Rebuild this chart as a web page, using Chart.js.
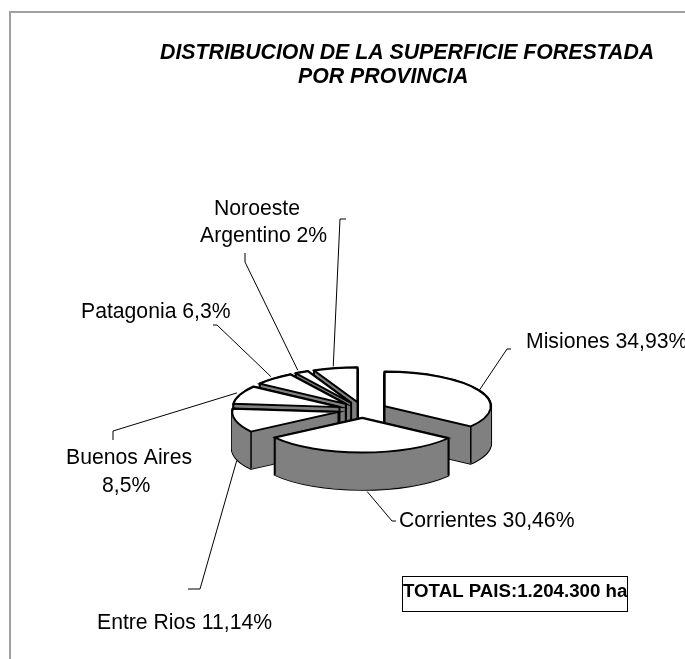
<!DOCTYPE html>
<html>
<head>
<meta charset="utf-8">
<script src="https://cdn.jsdelivr.net/npm/chart.js@4/dist/chart.umd.js"></script>
<style>
  html, body { margin: 0; padding: 0; background: #fff; }
  canvas { display: block; }
</style>
</head>
<body>
<canvas id="chart" width="685" height="659"></canvas>
<script>
var categories = ['Misiones', 'Corrientes', 'Entre Rios', 'Buenos Aires', 'Patagonia', 'Noroeste Argentino', ''];
var shares = [34.93, 30.46, 11.14, 8.5, 6.3, 2, 6.67];
var titleLines = ['DISTRIBUCION DE LA SUPERFICIE FORESTADA', 'POR PROVINCIA'];
var labelLines = [
    ['Misiones 34,93%'],
    ['Corrientes 30,46%'],
    ['Entre Rios 11,14%'],
    ['Buenos Aires', '8,5%'],
    ['Patagonia 6,3%'],
    ['Noroeste', 'Argentino 2%'],
    []
];
var totalText = 'TOTAL PAIS:1.204.300 ha';

// look of the pie
var squash = 0.325, depth = 37, explode = 25, pieRadius = 106, pieX = 362.5, pieY = 410;
var labelFont = '21.2px "Liberation Sans"';
var titleFont = 'italic bold 21.3px "Liberation Sans"';
var totalFont = 'bold 18.7px "Liberation Sans"';

// x, baseline for each text line, the two first points of each leader
// and how far its end sits from the middle of the rim
var labelSpots = [
    [[526, 348]],
    [[399, 527]],
    [[97, 629]],
    [[66, 464], [102, 492]],
    [[81, 318]],
    [[214, 215], [200, 242]],
    []
];
var leaderStarts = [
    [[511, 349], [507, 349]],
    [[396, 521], [392, 521]],
    [[188, 589], [200, 589]],
    [[113, 440], [113, 431]],
    [[213, 325], [217, 325]],
    [[245, 253], [245, 262]],
    [[346, 219], [340, 219]]
];
var leaderNudges = [[0, 0], [6, 2], [1, 3], [-3, -2], [-3, -2], [-4, -2], [-2, -2]];

var TAU = Math.PI * 2;

function sliceOffset(arc) {
    var mid = (arc.startAngle + arc.endAngle) / 2;
    return { x: Math.cos(mid) * explode, y: Math.sin(mid) * explode };
}

// strokes stay even although the arc path is squashed
function drawArc(ctx, arc, dy, opts) {
    var off = sliceOffset(arc);
    var saved = arc.options;
    arc.options = Object.assign({}, saved, opts);
    ctx.save();
    ctx.translate(0, pieY + dy);
    ctx.scale(1, squash);
    ctx.translate(off.x, -arc.y + off.y);
    ctx.stroke = function () {
        ctx.save();
        ctx.setTransform(1, 0, 0, 1, 0, 0);
        CanvasRenderingContext2D.prototype.stroke.call(ctx);
        ctx.restore();
    };
    arc.draw(ctx);
    delete ctx.stroke;
    ctx.restore();
    arc.options = saved;
}

// screen position of a point of the slice top
function topPoint(arc, angle, r) {
    var off = sliceOffset(arc);
    return {
        x: arc.x + off.x + Math.cos(angle) * r,
        y: pieY + (off.y + Math.sin(angle) * r) * squash
    };
}

function wallLine(ctx, p) {
    ctx.beginPath();
    ctx.moveTo(p.x, p.y);
    ctx.lineTo(p.x, p.y + depth);
    ctx.stroke();
}

var pie3d = {
    id: 'pie3d',
    beforeDatasetDraw: function (chart, args) {
        var ctx = chart.ctx;
        var arcs = chart.getDatasetMeta(args.index).data.slice();
        arcs.sort(function (a, b) {
            return Math.sin((a.startAngle + a.endAngle) / 2) - Math.sin((b.startAngle + b.endAngle) / 2);
        });
        arcs.forEach(function (arc) {
            var dy;
            // only the outer half of this stroke stays visible, on the wall outline
            for (dy = depth; dy >= 0; dy--) {
                drawArc(ctx, arc, dy, { backgroundColor: '#000000', borderColor: '#000000', borderWidth: 2.6, borderJoinStyle: 'round' });
            }
            for (dy = depth; dy >= 0; dy--) {
                drawArc(ctx, arc, dy, { backgroundColor: '#808080', borderColor: '#808080', borderWidth: 0.8, borderJoinStyle: 'round' });
            }
            // vertical edges of the walls that face the viewer
            ctx.save();
            ctx.strokeStyle = '#000000';
            ctx.lineWidth = 1.5;
            var s = (arc.startAngle + Math.PI / 2 + TAU) % TAU;
            var e = (arc.endAngle + Math.PI / 2 + TAU) % TAU;
            if (e < 1e-6) e = TAU;
            var startCut = s > Math.PI + 1e-6;
            var endCut = e < Math.PI - 1e-6;
            var frontStart = s > Math.PI / 2 && s < Math.PI * 1.5;
            var frontEnd = e > Math.PI / 2 && e < Math.PI * 1.5;
            if (startCut || endCut) wallLine(ctx, topPoint(arc, 0, 0));
            if (startCut || frontStart) wallLine(ctx, topPoint(arc, arc.startAngle, arc.outerRadius));
            if (endCut || frontEnd) wallLine(ctx, topPoint(arc, arc.endAngle, arc.outerRadius));
            ctx.restore();
            drawArc(ctx, arc, 0, {});
        });
        return false;
    },
    afterDraw: function (chart) {
        var ctx = chart.ctx;
        var arcs = chart.getDatasetMeta(0).data;
        ctx.save();
        // sheet edge
        ctx.strokeStyle = '#a0a0a0';
        ctx.lineWidth = 2;
        ctx.beginPath();
        ctx.moveTo(10, 659);
        ctx.lineTo(10, 12);
        ctx.lineTo(685, 12);
        ctx.stroke();

        ctx.fillStyle = '#000000';
        ctx.textBaseline = 'alphabetic';
        ctx.font = titleFont;
        ctx.fillText(titleLines[0], 160, 59);
        ctx.fillText(titleLines[1], 298, 83);

        // leaders, they end on the rim of their slice
        ctx.strokeStyle = '#000000';
        ctx.lineWidth = 1;
        leaderStarts.forEach(function (pts, i) {
            var arc = arcs[i];
            var mid = (arc.startAngle + arc.endAngle) / 2;
            var end = topPoint(arc, mid, arc.outerRadius);
            if (Math.sin(mid) > 0.1) end.y += depth;
            ctx.beginPath();
            ctx.moveTo(pts[0][0], pts[0][1]);
            ctx.lineTo(pts[1][0], pts[1][1]);
            ctx.lineTo(end.x + leaderNudges[i][0], end.y + leaderNudges[i][1]);
            ctx.stroke();
        });

        ctx.font = labelFont;
        labelLines.forEach(function (lines, i) {
            lines.forEach(function (line, j) {
                ctx.fillText(line, labelSpots[i][j][0], labelSpots[i][j][1]);
            });
        });

        // total box
        ctx.fillStyle = '#ffffff';
        ctx.lineWidth = 1;
        ctx.fillRect(402.5, 576.5, 225, 35);
        ctx.strokeRect(402.5, 576.5, 225, 35);
        ctx.fillStyle = '#000000';
        ctx.font = totalFont;
        ctx.fillText(totalText, 403, 597);
        ctx.restore();
    }
};

new Chart(document.getElementById('chart').getContext('2d'), {
    type: 'pie',
    data: {
        labels: categories,
        datasets: [{
            data: shares,
            backgroundColor: '#ffffff',
            borderColor: '#000000',
            borderWidth: 1.9,
            borderJoinStyle: 'miter'
        }]
    },
    options: {
        responsive: false,
        animation: false,
        radius: pieRadius,
        layout: { padding: { left: (pieX - 342.5) * 2 } },
        plugins: {
            legend: { display: false },
            title: { display: false },
            tooltip: { enabled: false }
        }
    },
    plugins: [pie3d]
});
</script>
</body>
</html>
